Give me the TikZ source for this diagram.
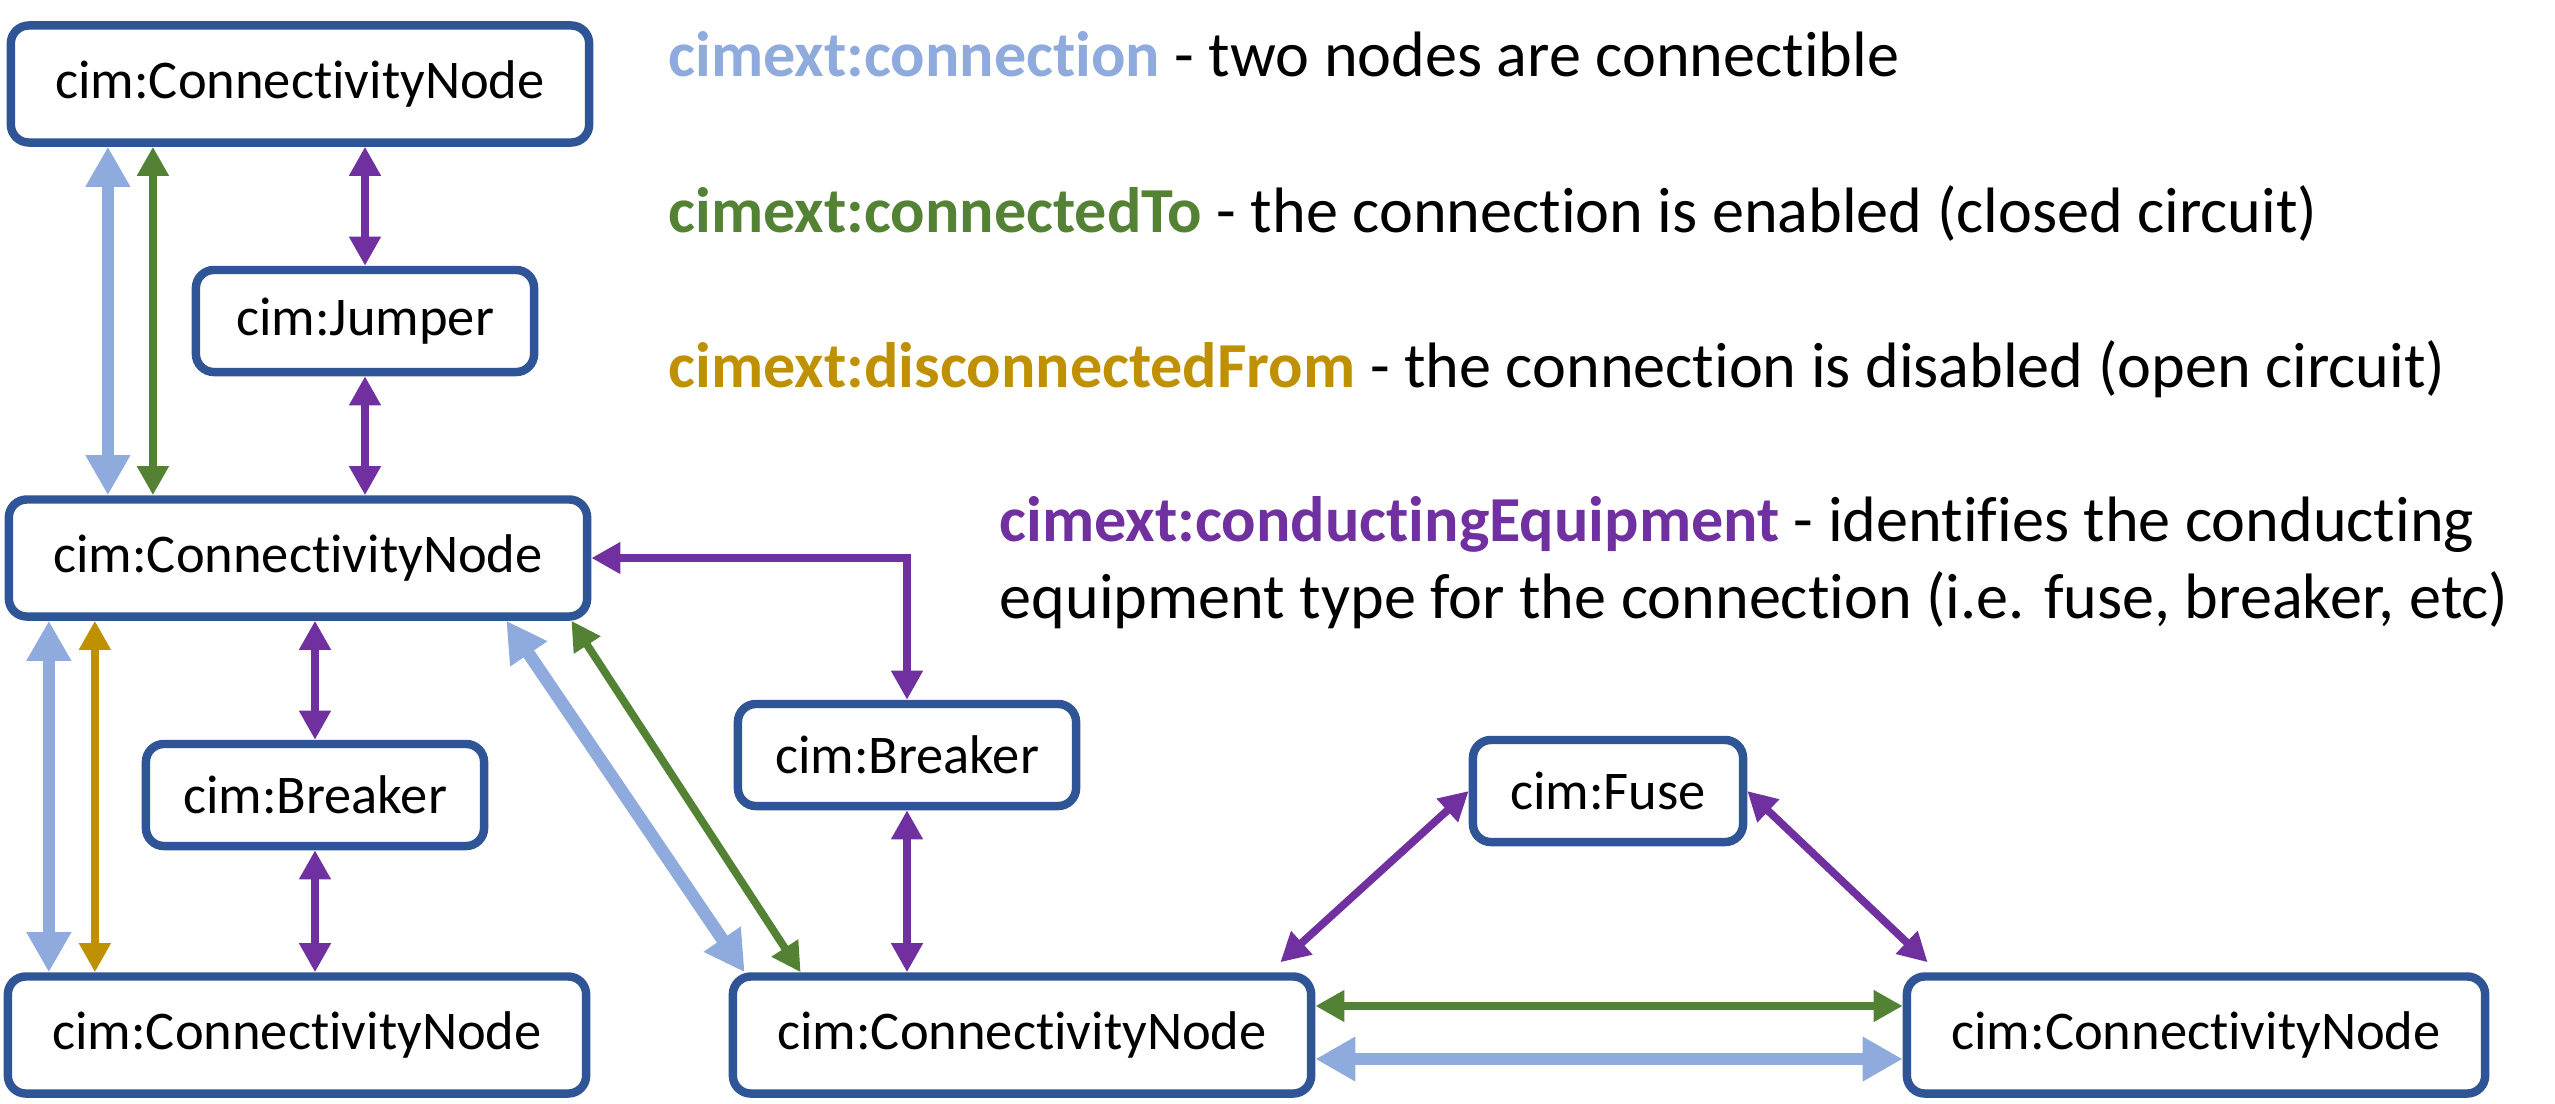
\documentclass[tikz,border=0pt]{standalone}
\usepackage{fontspec}
\setmainfont{Carlito}[Ligatures={NoCommon,NoRequired}]
\usetikzlibrary{arrows.meta}

\definecolor{boxblue}{HTML}{2F5597}
\definecolor{connblue}{HTML}{8FAADC}
\definecolor{conngreen}{HTML}{548235}
\definecolor{conngold}{HTML}{BF9000}
\definecolor{condpurple}{HTML}{7030A0}

\begin{document}
\begin{tikzpicture}[x=0.01cm,y=-0.01cm]
\tikzstyle{every node}+=[inner sep=0pt]
\tikzstyle{cimbox}=[draw=boxblue, line width=2.4pt, rounded corners=0.18cm, fill=white, font=\fontsize{15.5}{18}\selectfont]
\tikzstyle{cnode}=[cimbox, minimum width=5.78cm, minimum height=1.17cm]
\tikzstyle{equip}=[cimbox, minimum width=3.38cm, minimum height=1.02cm]
\tikzstyle{legend}=[anchor=base west, font=\fontsize{18.25}{22}\selectfont]
\tikzstyle{thin}=[line width=2.2pt, >={Triangle[length=0.29cm,width=0.3cm]}, <->]
\tikzstyle{connection}=[connblue, line width=3.6pt, >={Triangle[length=0.4cm,width=0.42cm]}, <->]
\tikzstyle{connected}=[thin, conngreen]
\tikzstyle{disconnected}=[thin, conngold]
\tikzstyle{conducting}=[thin, condpurple]
\useasboundingbox (0,0) rectangle (2555,1103);
% nodes
\node (cn1) [cnode] at (300,84) {cim:ConnectivityNode};
\node (jumper) [equip] at (365,321) {cim:Jumper};
\node (cn2) [cnode] at (298,558) {cim:ConnectivityNode};
\node (brk1) [equip] at (315,795) {cim:Breaker};
\node (cn3) [cnode] at (297,1035) {cim:ConnectivityNode};
\node (brk2) [equip] at (907,755) {cim:Breaker};
\node (cn4) [cnode] at (1022,1035) {cim:ConnectivityNode};
\node (fuse) [cimbox, minimum width=2.7cm, minimum height=1.02cm] at (1608,791) {cim:Fuse};
\node (cn5) [cnode] at (2196,1035) {cim:ConnectivityNode};
% legend
\node (legconn) [legend] at (668,77) {\textbf{\color{connblue}cimext:connection} - two nodes are connectible};
\node (legto) [legend] at (668,232) {\textbf{\color{conngreen}cimext:connectedTo} - the connection is enabled (closed circuit)};
\node (legfrom) [legend] at (668,387) {\textbf{\color{conngold}cimext:disconnectedFrom} - the connection is disabled (open circuit)};
\node (legce) [legend] at (999,541) {\textbf{\color{condpurple}cimext:conductingEquipment} - identifies the conducting};
\node (legce2) [legend] at (999,618) {equipment type for the connection (i.e. fuse, breaker, etc)};
% left column
\draw [connection] ([xshift=-1.92cm]cn1.south) -- ([xshift=-1.92cm]cn1.south |- cn2.north);
\draw [connected] ([xshift=-1.47cm]cn1.south) -- ([xshift=-1.47cm]cn1.south |- cn2.north);
\draw [conducting] (jumper.north |- cn1.south) -- (jumper.north);
\draw [conducting] (jumper.south) -- (jumper.south |- cn2.north);
\draw [connection] ([xshift=-2.49cm]cn2.south) -- ([xshift=-2.49cm]cn2.south |- cn3.north);
\draw [disconnected] ([xshift=-2.03cm]cn2.south) -- ([xshift=-2.03cm]cn2.south |- cn3.north);
\draw [conducting] (brk1.north |- cn2.south) -- (brk1.north);
\draw [conducting] (brk1.south) -- (brk1.south |- cn3.north);
% middle
\draw [conducting] (cn2.east) -| (brk2.north);
\draw [conducting] (brk2.south) -- (brk2.south |- cn4.north);
\draw [connection] ([xshift=-0.85cm]cn2.south east) -- ([xshift=0.16cm]cn4.north west);
\draw [connected] ([xshift=-0.2cm]cn2.south east) -- ([xshift=0.72cm]cn4.north west);
% right
\draw [connected] ([yshift=0.29cm]cn4.east) -- ([yshift=0.29cm]cn4.east -| cn5.west);
\draw [connection] ([yshift=-0.24cm]cn4.east) -- ([yshift=-0.24cm]cn4.east -| cn5.west);
\draw [conducting] (fuse.west) -- ([xshift=-0.35cm,yshift=0.1cm]cn4.north east);
\draw [conducting] (fuse.east) -- ([xshift=0.25cm,yshift=0.1cm]cn5.north west);
\end{tikzpicture}
\end{document}
